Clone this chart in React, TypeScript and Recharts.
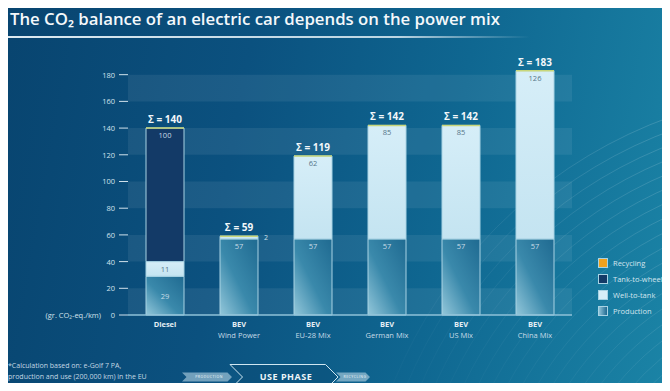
import React from 'react';
import { BarChart, Bar, XAxis, YAxis, ReferenceArea, LabelList } from 'recharts';

const categories = ['Diesel', 'BEV', 'BEV', 'BEV', 'BEV', 'BEV'];
const subLabels = ['', 'Wind Power', 'EU-28 Mix', 'German Mix', 'US Mix', 'China Mix'];
const production = [29, 57, 57, 57, 57, 57];
const wellToTank = [11, 2, 62, 85, 85, 126];
const tankToWheel = [100, 0, 0, 0, 0, 0];
const recycling = [0, 0, 0, 0, 0, 0];
const yTicks = [0, 20, 40, 60, 80, 100, 120, 140, 160, 180];
const legendItems = ['Recycling', 'Tank-to-wheel', 'Well-to-tank', 'Production'];

const data = categories.map((c, i) => ({
  key: i,
  name: c,
  sub: subLabels[i],
  production: production[i],
  wellToTank: wellToTank[i],
  tankToWheel: tankToWheel[i],
  recycling: recycling[i],
}));

// lighter stripes every other 20-unit band, starting from the bottom
const stripes = yTicks.slice(0, -1).filter((_, i) => i % 2 === 0).map((t) => [t, t + 20]);

const FONT = '"Open Sans", "DejaVu Sans", sans-serif';

const XTick = (props: any) => {
  const { x, y, payload } = props;
  const i = payload.index;
  return (
    <g>
      <text x={x} y={y + 4} textAnchor="middle" fontFamily={FONT} fontSize={7.5} fontWeight={700} fill="#e4eef4">
        {categories[i]}
      </text>
      {subLabels[i] && (
        <text x={x} y={y + 15} textAnchor="middle" fontFamily={FONT} fontSize={7.5} fill="#c6dbe7">
          {subLabels[i]}
        </text>
      )}
    </g>
  );
};

const YTick = (props: any) => {
  const { x, y, payload } = props;
  return (
    <g>
      <text x={x} y={y + 3} textAnchor="end" fontFamily={FONT} fontSize={7.5} fill="#d2e2ec">
        {payload.value}
      </text>
      {payload.value === 0 && (
        <text x={x - 14} y={y + 3} textAnchor="end" fontFamily={FONT} fontSize={7.5} fill="#d2e2ec">
          (gr. CO₂-eq./km)
        </text>
      )}
    </g>
  );
};

const segLabel = (dark: boolean, centerFor: number[], sideFor: number[]) => (props: any) => {
  const { x, y, width, height, value, index } = props;
  if (!value) return null;
  if (sideFor.includes(index)) {
    return (
      <text x={x + width + 6} y={y + 4} fontFamily={FONT} fontSize={7} fill="#cfe2ec">
        {value}
      </text>
    );
  }
  const cy = centerFor.includes(index) ? y + height / 2 + 3 : y + 10;
  return (
    <text x={x + width / 2} y={cy} textAnchor="middle" fontFamily={FONT} fontSize={7.5} fill={dark ? '#c9dbe6' : '#557689'}>
      {value}
    </text>
  );
};

const TopShape = (props: any) => {
  const { x, y, width, payload } = props;
  const total = payload.production + payload.wellToTank + payload.tankToWheel + payload.recycling;
  return (
    <g>
      <line x1={x} x2={x + width} y1={y} y2={y} stroke="#c9d77a" strokeWidth={1.5} />
      <text x={x + width / 2} y={y - 5} textAnchor="middle" fontFamily={FONT} fontSize={10} fontWeight={700} fill="#f2f7fa">
        {`Σ = ${total}`}
      </text>
    </g>
  );
};

const Arrow = ({ x, w, h, cy, fill, stroke, label, size, bold }: any) => {
  const t = h / 2;
  const pts = `${x},${cy - t} ${x + w - t},${cy - t} ${x + w},${cy} ${x + w - t},${cy + t} ${x},${cy + t} ${x + t},${cy}`;
  return (
    <g>
      <polygon points={pts} fill={fill} stroke={stroke} strokeWidth={1} />
      <text x={x + w / 2 + 2} y={cy + size / 2.8} textAnchor="middle" fontFamily={FONT} fontSize={size} fontWeight={bold ? 700 : 400} fill="#eef5f9" letterSpacing={0.5}>
        {label}
      </text>
    </g>
  );
};

export default function App() {
  const arcs = Array.from({ length: 18 }, (_, i) => 250 + i * 13);
  return (
    <div
      style={{
        position: 'relative',
        width: 670,
        height: 391,
        margin: -8,
        overflow: 'hidden',
        background: 'linear-gradient(100deg, #08446f 0%, #0b517f 35%, #0f6791 65%, #1b84a6 100%)',
        fontFamily: FONT,
      }}
    >
      <svg width={670} height={391} style={{ position: 'absolute', left: 0, top: 0 }}>
        <defs>
          <linearGradient id="arcFade" x1="0" y1="0" x2="1" y2="0">
            <stop offset="0" stopColor="#fff" stopOpacity={0} />
            <stop offset="0.35" stopColor="#fff" stopOpacity={0.2} />
            <stop offset="1" stopColor="#fff" stopOpacity={0.3} />
          </linearGradient>
          <linearGradient id="titleLine" x1="0" y1="0" x2="1" y2="0">
            <stop offset="0" stopColor="#e8f3f8" stopOpacity={0.95} />
            <stop offset="0.75" stopColor="#e8f3f8" stopOpacity={0.8} />
            <stop offset="1" stopColor="#e8f3f8" stopOpacity={0} />
          </linearGradient>
        </defs>
        <g fill="none" stroke="url(#arcFade)" strokeWidth={0.8}>
          {arcs.map((r) => (
            <circle key={r} cx={830} cy={560} r={r} />
          ))}
        </g>
        <text x={10} y={25} fontFamily={FONT} fontSize={17} fontWeight={600} fill="#f4f8fb" textLength={490} lengthAdjust="spacingAndGlyphs">
          The CO₂ balance of an electric car depends on the power mix
        </text>
        <rect x={0} y={36} width={530} height={2} fill="url(#titleLine)" />
        <text x={8} y={368} fontFamily={FONT} fontSize={7} fill="#c4d8e4">*Calculation based on: e-Golf 7 PA,</text>
        <text x={8} y={379} fontFamily={FONT} fontSize={7} fill="#c4d8e4">production and use (200,000 km) in the EU</text>
        <Arrow x={182} w={50} h={9} cy={377} fill="rgba(200,225,238,0.55)" stroke="none" label="PRODUCTION" size={3.5} />
        <Arrow x={230} w={108} h={25} cy={377} fill="rgba(10,70,110,0.3)" stroke="#cfe6f1" label="USE PHASE" size={9} bold />
        <Arrow x={336} w={34} h={9} cy={377} fill="rgba(200,225,238,0.55)" stroke="none" label="RECYCLING" size={3.5} />
      </svg>

      <div style={{ position: 'absolute', left: 0, top: 0 }}>
        <BarChart width={670} height={391} data={data} margin={{ top: 68, right: 98, bottom: 46, left: 0 }} barSize={38}>
          <defs>
            <linearGradient id="prodFill" x1="1" y1="0" x2="0" y2="1">
              <stop offset="0" stopColor="#1f6a91" />
              <stop offset="0.55" stopColor="#3a89ab" />
              <stop offset="1" stopColor="#93c7da" />
            </linearGradient>
            <linearGradient id="wttFill" x1="0" y1="0" x2="0" y2="1">
              <stop offset="0" stopColor="#d6eef8" />
              <stop offset="1" stopColor="#c4e4f1" />
            </linearGradient>
          </defs>
          {stripes.map(([a, b]) => (
            <ReferenceArea key={a} y1={a} y2={b} fill="#ffffff" fillOpacity={0.07} stroke="none" ifOverflow="visible" />
          ))}
          <XAxis
            dataKey="key"
            height={30}
            axisLine={{ stroke: '#8fc2d9', strokeWidth: 1.5 }}
            tickLine={false}
            tick={<XTick />}
            interval={0}
          />
          <YAxis
            domain={[0, 185]}
            ticks={yTicks}
            width={128}
            axisLine={false}
            tickLine={{ stroke: '#d2e2ec', strokeWidth: 1 }}
            tickSize={9}
            tickMargin={4}
            tick={<YTick />}
          />
          <Bar dataKey="production" stackId="a" fill="url(#prodFill)" stroke="#a8d3e4" strokeWidth={1} isAnimationActive={false}>
            <LabelList dataKey="production" content={segLabel(true, [0], [])} />
          </Bar>
          <Bar dataKey="wellToTank" stackId="a" fill="url(#wttFill)" stroke="#a8d3e4" strokeWidth={1} isAnimationActive={false}>
            <LabelList dataKey="wellToTank" content={segLabel(false, [0], [1])} />
          </Bar>
          <Bar dataKey="tankToWheel" stackId="a" fill="#133a67" stroke="#a8d3e4" strokeWidth={1} isAnimationActive={false}>
            <LabelList dataKey="tankToWheel" content={segLabel(true, [], [])} />
          </Bar>
          <Bar dataKey="recycling" stackId="a" fill="#f0a21f" shape={<TopShape />} isAnimationActive={false} />
        </BarChart>
      </div>

      <div style={{ position: 'absolute', left: 598, top: 255 }}>
        {legendItems.map((name, i) => (
          <div key={name} style={{ display: 'flex', alignItems: 'center', height: 16 }}>
            <div
              style={{
                width: 10,
                height: 10,
                flexShrink: 0,
                boxSizing: 'border-box',
                border: '1px solid #a8d3e4',
                background: [
                  '#f0a21f',
                  '#133a67',
                  '#d6eef8',
                  'linear-gradient(90deg, #8fc3d8, #1f6a91)',
                ][i],
              }}
            />
            <span style={{ marginLeft: 5, fontSize: 7.5, color: '#d4e5ee', whiteSpace: 'nowrap' }}>{name}</span>
          </div>
        ))}
      </div>
    </div>
  );
}
